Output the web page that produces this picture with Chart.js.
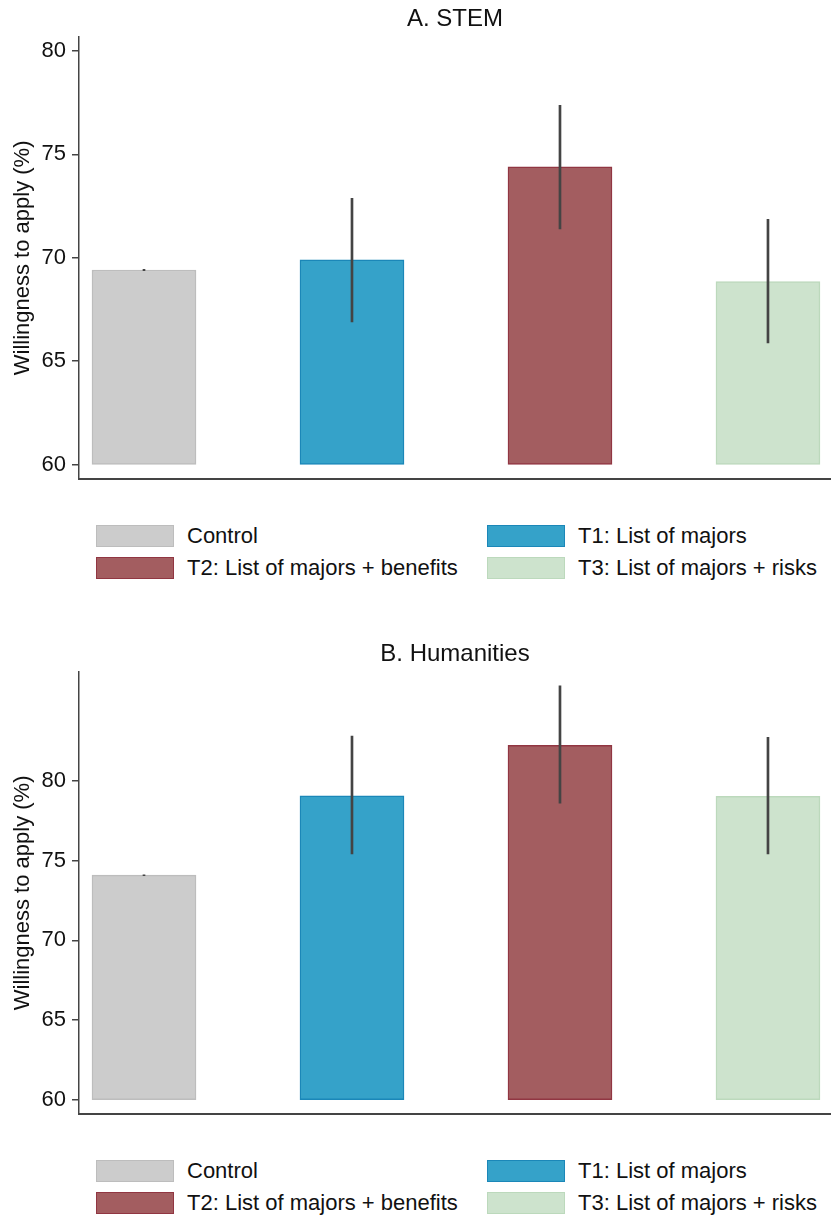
<!DOCTYPE html>
<html>
<head>
<meta charset="utf-8">
<script src="https://cdn.jsdelivr.net/npm/chart.js@4"></script>
<style>
  body { margin: 0; background: #fff; font-family: "Liberation Sans", Arial, sans-serif; }
  #wrap { position: relative; width: 831px; height: 1217px; }
  #wrap canvas { position: absolute; left: 0; }
  .legend { position: absolute; left: 0; width: 831px; height: 60px; }
  .item { position: absolute; display: flex; align-items: center; font-size: 22px; color: #111; white-space: nowrap; }
  .box { width: 76px; height: 20px; margin-right: 13px; box-sizing: content-box; }
</style>
</head>
<body>
<div id="wrap">
  <canvas id="stemChart" style="top:0px"></canvas>
  <div class="legend" id="stemLegend" style="top:523px"></div>
  <canvas id="humChart" style="top:635px"></canvas>
  <div class="legend" id="humLegend" style="top:1158px"></div>
</div>
<script>
const groups = ["Control", "T1: List of majors", "T2: List of majors + benefits", "T3: List of majors + risks"];
const xPos = [1, 2, 3, 4];
const barBase = 60;

// Panel A: STEM
const stemMeans = [69.41, 69.9, 74.4, 68.85];
const stemLow = [69.38, 66.9, 71.4, 65.88];
const stemHigh = [69.44, 72.88, 77.38, 71.86];
const stemTicks = [60, 65, 70, 75, 80];

// Panel B: Humanities
const humMeans = [74.08, 79.05, 82.22, 79.03];
const humLow = [74.05, 75.42, 78.6, 75.42];
const humHigh = [74.11, 82.8, 85.95, 82.72];
const humTicks = [60, 65, 70, 75, 80];

const fills = ["#cccccc", "#35a2c9", "#a35d60", "#cde3cd"];
const borders = ["#bdbdbd", "#1b87b8", "#913642", "#bcd9bc"];

// title centred over the plot area, not the whole canvas
const panelTitle = {
  id: "panelTitle",
  afterDraw(chart, args, opts) {
    const { ctx, chartArea } = chart;
    ctx.save();
    ctx.font = "24px 'Liberation Sans', Arial, sans-serif";
    ctx.fillStyle = "#111";
    ctx.textAlign = "center";
    ctx.textBaseline = "middle";
    ctx.fillText(opts.text, (chartArea.left + chartArea.right) / 2, 19);
    ctx.restore();
  },
};

function makeLegend(id) {
  const el = document.getElementById(id);
  const spots = [[96, 0], [487, 0], [96, 32], [487, 32]];
  groups.forEach((g, i) => {
    const item = document.createElement("div");
    item.className = "item";
    item.style.left = spots[i][0] + "px";
    item.style.top = spots[i][1] + "px";
    const box = document.createElement("span");
    box.className = "box";
    box.style.background = fills[i];
    box.style.border = "1px solid " + borders[i];
    item.appendChild(box);
    item.appendChild(document.createTextNode(g));
    el.appendChild(item);
  });
}

function makeChart(id, title, means, low, high, ticks, yMin, yMax) {
  const canvas = document.getElementById(id);
  canvas.width = 831;
  canvas.height = 498;
  canvas.style.width = "831px";
  canvas.style.height = "498px";
  return new Chart(canvas, {
    type: "bar",
    data: {
      datasets: [
        {
          // error bars (drawn on top)
          data: xPos.map((x, i) => ({ x: x, y: [low[i], high[i]] })),
          backgroundColor: "#444444",
          borderWidth: 0,
          barThickness: 2,
          grouped: false,
        },
        {
          data: xPos.map((x, i) => ({ x: x, y: [barBase, means[i]] })),
          backgroundColor: fills,
          borderColor: borders,
          borderWidth: 1.5,
          borderSkipped: false,
          barThickness: 104,
          grouped: false,
        },
      ],
    },
    plugins: [panelTitle],
    options: {
      responsive: false,
      animation: false,
      layout: { padding: { left: 0, right: 0, top: 37, bottom: 2 } },
      plugins: {
        legend: { display: false },
        tooltip: { enabled: false },
        title: { display: false },
        panelTitle: { text: title },
      },
      scales: {
        x: {
          type: "linear",
          offset: false,
          min: 0.6875,
          max: 4.303,
          ticks: { display: false },
          grid: { display: false },
          border: { display: true, color: "#444", width: 2 },
          afterFit: (scale) => { scale.height = 0; },
        },
        y: {
          min: yMin,
          max: yMax,
          afterBuildTicks: (scale) => { scale.ticks = ticks.map((v) => ({ value: v })); },
          ticks: {
            color: "#111",
            padding: 6,
            font: { family: "Liberation Sans", size: 22 },
          },
          grid: { drawOnChartArea: false, drawTicks: true, tickLength: 7, color: "#444", lineWidth: 1.5 },
          border: { display: true, color: "#444", width: 1.5 },
          title: {
            display: true,
            text: "Willingness to apply (%)",
            color: "#111",
            font: { family: "Liberation Sans", size: 22, lineHeight: 1.2 },
            padding: { top: 10, bottom: 0 },
          },
          afterFit: (scale) => { scale.width = 79; },
        },
      },
    },
  });
}

makeChart("stemChart", "A. STEM", stemMeans, stemLow, stemHigh, stemTicks, 59.31, 80.68);
makeChart("humChart", "B. Humanities", humMeans, humLow, humHigh, humTicks, 59.12, 86.82);
makeLegend("stemLegend");
makeLegend("humLegend");
</script>
</body>
</html>
